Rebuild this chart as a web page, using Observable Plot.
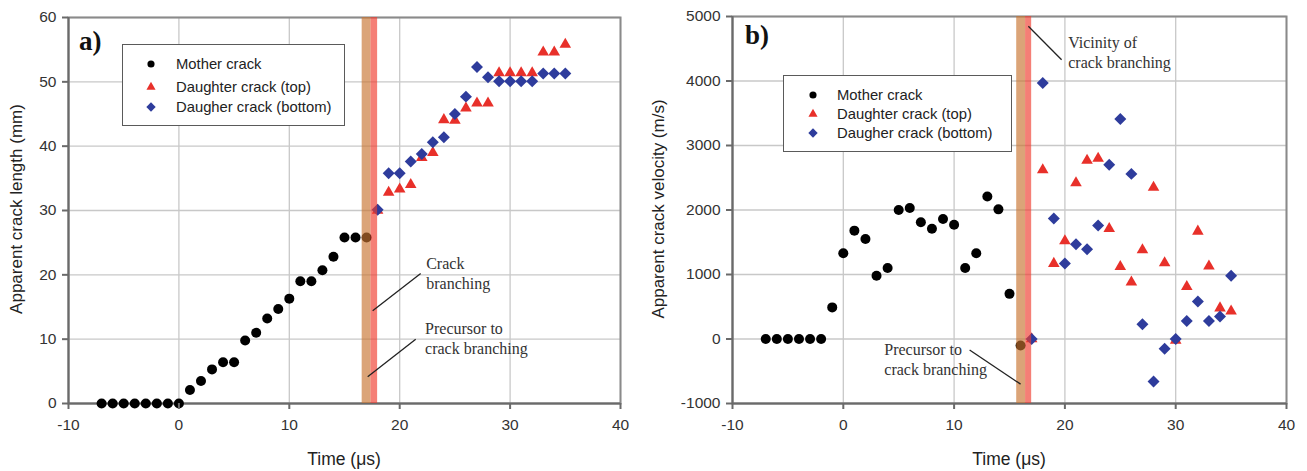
<!DOCTYPE html>
<html>
<head>
<meta charset="utf-8">
<script src="https://cdn.jsdelivr.net/npm/d3@7"></script>
<script src="https://cdn.jsdelivr.net/npm/@observablehq/plot@0.6"></script>
<style>
  html, body { margin: 0; padding: 0; background: #fff; }
  #wrap { position: relative; width: 1307px; height: 471px; overflow: hidden; font-family: "Liberation Sans", Arial, sans-serif; }
  .panel { position: absolute; top: 0; }
  .legend { position: absolute; background: #fff; border: 1.5px solid #5a5a5a; box-sizing: border-box; font-size: 14.8px; color: #222; }
  .legend .row { position: absolute; left: 0; height: 20px; display: flex; align-items: center; white-space: nowrap; }
  .legend svg { position: absolute; }
  .ylab { position: absolute; transform-origin: center; transform: rotate(-90deg); white-space: nowrap; font-size: 17px; color: #222; text-align: center; }
  .xlab { position: absolute; white-space: nowrap; font-size: 17.5px; color: #222; transform: translateX(-50%); }
  .plab { position: absolute; font-family: "Liberation Serif", "Times New Roman", serif; font-weight: bold; font-size: 27px; color: #111; }
</style>
</head>
<body>
<div id="wrap"></div>
<script>
// ---------- data ----------
const timeTicks = [-10, 0, 10, 20, 30, 40];
const lengthTicks = [0, 10, 20, 30, 40, 50, 60];
const velocityTicks = [-1000, 0, 1000, 2000, 3000, 4000, 5000];

// Panel a) apparent crack length (mm)
const motherLenT = [-7, -6, -5, -4, -3, -2, -1, 0, 1, 2, 3, 4, 5, 6, 7, 8, 9, 10, 11, 12, 13, 14, 15, 16, 17];
const motherLenV = [0, 0, 0, 0, 0, 0, 0, 0, 2.1, 3.5, 5.3, 6.4, 6.4, 9.8, 11.0, 13.2, 14.7, 16.3, 19.0, 19.0, 20.7, 22.8, 25.8, 25.8, 25.8];
const topLenT = [18, 19, 20, 21, 22, 23, 24, 25, 26, 27, 28, 29, 30, 31, 32, 33, 34, 35];
const topLenV = [30.0, 32.8, 33.3, 34.0, 38.2, 39.0, 44.1, 44.0, 45.9, 46.7, 46.7, 51.4, 51.4, 51.4, 51.4, 54.6, 54.6, 55.8];
const botLenT = [18, 19, 20, 21, 22, 23, 24, 25, 26, 27, 28, 29, 30, 31, 32, 33, 34, 35];
const botLenV = [30.1, 35.8, 35.8, 37.6, 38.8, 40.6, 41.4, 45.0, 47.7, 52.3, 50.7, 50.1, 50.1, 50.1, 50.1, 51.3, 51.3, 51.3];

// Panel b) apparent crack velocity (m/s)
const motherVelT = [-7, -6, -5, -4, -3, -2, -1, 0, 1, 2, 3, 4, 5, 6, 7, 8, 9, 10, 11, 12, 13, 14, 15, 16];
const motherVelV = [0, 0, 0, 0, 0, 0, 490, 1330, 1680, 1550, 980, 1100, 2000, 2030, 1810, 1710, 1860, 1770, 1100, 1330, 2210, 2010, 700, -100];
const topVelT = [17, 18, 19, 20, 21, 22, 23, 24, 25, 26, 27, 28, 29, 30, 31, 32, 33, 34, 35];
const topVelV = [0, 2620, 1170, 1520, 2420, 2770, 2800, 1710, 1120, 880, 1380, 2350, 1180, -20, 810, 1670, 1130, 480, 430];
const botVelT = [17, 18, 19, 20, 21, 22, 23, 24, 25, 26, 27, 28, 29, 30, 31, 32, 33, 34, 35];
const botVelV = [0, 3970, 1870, 1170, 1470, 1390, 1760, 2700, 3410, 2560, 230, -660, -150, 0, 280, 580, 280, 350, 980];

// branching bands (time, µs)
const bandsA = [{x1: 16.6, x2: 17.4, kind: "precursor"}, {x1: 17.4, x2: 18.0, kind: "branching"}];
const bandsB = [{x1: 15.65, x2: 16.45, kind: "precursor"}, {x1: 16.45, x2: 17.0, kind: "branching"}];

// annotations (data coordinates)
const notesA = [
  {text: "Crack\nbranching", t: 22.4, v: 20.3},
  {text: "Precursor to\ncrack branching", t: 22.3, v: 10.2}
];
const leadersA = [
  {t1: 17.55, v1: 14.4, t2: 21.9, v2: 20.2},
  {t1: 17.1, v1: 4.15, t2: 21.45, v2: 10.0}
];
const notesB = [
  {text: "Vicinity of\ncrack branching", t: 20.3, v: 4460},
  {text: "Precursor to\ncrack branching", t: 3.7, v: -310}
];
const leadersB = [
  {t1: 16.7, v1: 4850, t2: 19.7, v2: 4330},
  {t1: 11.4, v1: -170, t2: 16.0, v2: -700}
];

const seriesNames = ["Mother crack", "Daughter crack (top)", "Daugher crack (bottom)"];
const seriesColors = ["#000000", "#E8302A", "#2E3C9C"];
const bandColors = {precursor: "#C8732F", branching: "#F03A2C"};

// ---------- build ----------
const zip = (ts, vs) => ts.map((t, i) => ({t, v: vs[i]}));
const wrap = document.getElementById("wrap");
const fmt = d => String(d);

function panel({left, width, ml, mr, mt, mb, yDomain, yTicks, mother, top, bot, bands, notes, leaders}) {
  const svg = Plot.plot({
    width, height: 471,
    marginLeft: ml, marginRight: mr, marginTop: mt, marginBottom: mb,
    style: {fontFamily: "Liberation Sans, Arial, sans-serif", fontSize: "15.5px", color: "#333", background: "transparent"},
    x: {domain: [-10, 40]},
    y: {domain: yDomain},
    marks: [
      Plot.gridX(timeTicks, {stroke: "#c8c8c8", strokeOpacity: 1, strokeWidth: 1.3}),
      Plot.gridY(yTicks, {stroke: "#c8c8c8", strokeOpacity: 1, strokeWidth: 1.3}),
      Plot.frame({stroke: "#8a8a8a", strokeWidth: 2}),
      Plot.ruleY([yDomain[0]], {stroke: "#6a6a6a", strokeWidth: 2}),
      Plot.ruleX([-10], {stroke: "#6a6a6a", strokeWidth: 2}),
      Plot.dot(mother, {x: "t", y: "v", r: 5, fill: seriesColors[0], symbol: "circle"}),
      Plot.dot(top, {x: "t", y: "v", r: 4.3, fill: seriesColors[1], symbol: "triangle"}),
      Plot.dot(bot, {x: "t", y: "v", r: 5.4, fill: seriesColors[2], symbol: "diamond2"}),
      Plot.rect(bands, {x1: "x1", x2: "x2", fill: d => bandColors[d.kind], fillOpacity: 0.65}),
      Plot.link(leaders, {x1: "t1", y1: "v1", x2: "t2", y2: "v2", stroke: "#222", strokeWidth: 1.3}),
      Plot.text(notes, {x: "t", y: "v", text: "text", textAnchor: "start", lineAnchor: "middle", lineHeight: 1.25,
        fontFamily: "Liberation Serif, Times New Roman, serif", fontSize: 16, fill: "#333"}),
      Plot.axisX(timeTicks, {tickSize: 6, tickPadding: 9, tickFormat: fmt, label: null, stroke: "#6a6a6a", strokeWidth: 2, fill: "#333"}),
      Plot.axisY(yTicks, {tickSize: 6, tickPadding: 6, tickFormat: fmt, label: null, stroke: "#6a6a6a", strokeWidth: 2, fill: "#333"})
    ]
  });
  svg.classList.add("panel");
  svg.style.left = left + "px";
  wrap.appendChild(svg);
}

panel({left: 0, width: 650, ml: 68, mr: 30, mt: 17, mb: 68,
  yDomain: [0, 60], yTicks: lengthTicks,
  mother: zip(motherLenT, motherLenV), top: zip(topLenT, topLenV), bot: zip(botLenT, botLenV),
  bands: bandsA, notes: notesA, leaders: leadersA});

panel({left: 650, width: 657, ml: 82, mr: 21, mt: 16, mb: 68,
  yDomain: [-1000, 5000], yTicks: velocityTicks,
  mother: zip(motherVelT, motherVelV), top: zip(topVelT, topVelV), bot: zip(botVelT, botVelV),
  bands: bandsB, notes: notesB, leaders: leadersB});

// ---------- HTML overlays: titles, panel labels, legends ----------
function addDiv(cls, text, css) {
  const d = document.createElement("div");
  d.className = cls; d.textContent = text;
  Object.assign(d.style, css);
  wrap.appendChild(d);
  return d;
}
const yl1 = addDiv("ylab", "Apparent crack length (mm)", {});
const yl2 = addDiv("ylab", "Apparent crack velocity (m/s)", {});
function placeY(el, cx, cy) {
  const w = el.offsetWidth, h = el.offsetHeight;
  el.style.left = (cx - w / 2) + "px";
  el.style.top = (cy - h / 2) + "px";
}
placeY(yl1, 17, 209);
placeY(yl2, 658, 209);
addDiv("xlab", "Time (μs)", {left: "344px", top: "449px"});
addDiv("xlab", "Time (μs)", {left: "1009px", top: "449px"});
addDiv("plab", "a)", {left: "79px", top: "26px"});
addDiv("plab", "b)", {left: "745px", top: "20px"});

function symbolSvg(i) {
  const ns = "http://www.w3.org/2000/svg";
  const s = document.createElementNS(ns, "svg");
  s.setAttribute("width", 14); s.setAttribute("height", 14);
  s.setAttribute("viewBox", "-7 -7 14 14");
  const p = document.createElementNS(ns, "path");
  const sym = [d3.symbolCircle, d3.symbolTriangle, d3.symbolDiamond2][i];
  const size = [40, 36, 56][i];
  p.setAttribute("d", d3.symbol(sym, size)());
  p.setAttribute("fill", seriesColors[i]);
  s.appendChild(p);
  return s;
}
function legend(left, top, w, h, rows, mx, tx) {
  const box = document.createElement("div");
  box.className = "legend";
  Object.assign(box.style, {left: left + "px", top: top + "px", width: w + "px", height: h + "px"});
  seriesNames.forEach((name, i) => {
    const sv = symbolSvg(i);
    sv.style.left = (mx - 7) + "px"; sv.style.top = (rows[i] - 7) + "px";
    box.appendChild(sv);
    const t = document.createElement("div");
    t.className = "row"; t.textContent = name;
    t.style.left = tx + "px"; t.style.top = (rows[i] - 10) + "px";
    box.appendChild(t);
  });
  wrap.appendChild(box);
}
legend(122, 44, 223, 82, [19, 41.5, 62], 28, 53);
legend(783, 75, 229, 77, [19, 37.5, 57], 29, 53);
</script>
</body>
</html>
